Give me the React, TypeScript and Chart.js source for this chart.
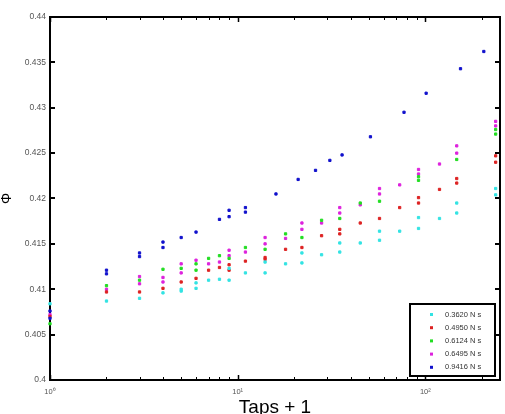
import React, { useEffect, useRef } from "react";
import { Chart, registerables } from "chart.js";

Chart.register(...registerables);

// Legend labels (Ns)
const seriesLabels = ["0.3620 N s", "0.4950 N s", "0.6124 N s", "0.6495 N s", "0.9416 N s"];
const seriesColors = ["#33e3e3", "#dd2222", "#22dd22", "#dd22dd", "#1111cc"];

// Taps + 1 values and packing fraction Φ for each series
const cyanX = [1, 2, 3, 4, 5, 5, 6, 6, 7, 8, 9, 9, 11, 14, 14, 18, 22, 22, 28, 35, 35, 45, 57, 57, 73, 92, 92, 119, 147, 147, 237, 237];
const cyanY = [0.4084, 0.4087, 0.409, 0.4096, 0.41, 0.4098, 0.4107, 0.4101, 0.411, 0.4111, 0.4123, 0.411, 0.4118, 0.413, 0.4118, 0.4128, 0.414, 0.4129, 0.4138, 0.4151, 0.4141, 0.4151, 0.4164, 0.4154, 0.4164, 0.4179, 0.4167, 0.4178, 0.4195, 0.4184, 0.4211, 0.4204];

const redX = [1, 2, 3, 4, 5, 6, 7, 8, 9, 9, 11, 14, 14, 18, 22, 28, 35, 35, 45, 57, 73, 92, 92, 119, 147, 147, 237, 237];
const redY = [0.407, 0.4097, 0.4097, 0.4101, 0.4108, 0.4112, 0.4121, 0.4124, 0.4127, 0.4121, 0.4131, 0.4135, 0.4133, 0.4144, 0.4146, 0.4159, 0.4166, 0.4161, 0.4173, 0.4178, 0.419, 0.4201, 0.4195, 0.421, 0.4222, 0.4217, 0.4247, 0.424];

const greenX = [1, 2, 3, 4, 5, 6, 6, 7, 8, 9, 11, 14, 18, 22, 28, 35, 45, 57, 92, 92, 147, 237, 237];
const greenY = [0.4062, 0.4104, 0.411, 0.4122, 0.4123, 0.4128, 0.4121, 0.4134, 0.4137, 0.4134, 0.4146, 0.4144, 0.4161, 0.4157, 0.4176, 0.4178, 0.4195, 0.4197, 0.4224, 0.422, 0.4243, 0.4276, 0.4271];

const magentaX = [1, 2, 3, 3, 4, 4, 5, 5, 6, 7, 8, 9, 9, 11, 14, 14, 18, 22, 22, 28, 35, 35, 45, 57, 57, 73, 92, 92, 119, 147, 147, 237, 237];
const magentaY = [0.4072, 0.41, 0.4114, 0.4106, 0.4113, 0.4108, 0.4128, 0.4118, 0.4132, 0.4128, 0.413, 0.4143, 0.4137, 0.4141, 0.4157, 0.415, 0.4156, 0.4173, 0.4166, 0.4173, 0.419, 0.4184, 0.4193, 0.4211, 0.4205, 0.4215, 0.4232, 0.4227, 0.4238, 0.4258, 0.425, 0.4285, 0.428];

const blueX = [1, 1, 2, 2, 3, 3, 4, 4, 5, 6, 8, 9, 9, 11, 11, 16, 21, 26, 31, 36, 51, 77, 101, 154, 205];
const blueY = [0.4076, 0.4068, 0.4121, 0.4117, 0.414, 0.4136, 0.4152, 0.4146, 0.4157, 0.4163, 0.4177, 0.4187, 0.418, 0.419, 0.4185, 0.4205, 0.4221, 0.4231, 0.4242, 0.4248, 0.4268, 0.4295, 0.4316, 0.4343, 0.4362];

const seriesX = [cyanX, redX, greenX, magentaX, blueX];
const seriesY = [cyanY, redY, greenY, magentaY, blueY];

const xMin = 1;
const xMax = 250;
const yMin = 0.4;
const yMax = 0.44;
const yStep = 0.005;
const xDecades = [1, 10, 100];
const superscripts = ["⁰", "¹", "²", "³"];

const FONT = "'Liberation Sans', Arial, sans-serif";

const framePlugin = {
  id: "frameTicks",
  beforeDatasetsDraw(chart: any) {
    const { ctx, chartArea: a, scales } = chart;
    ctx.save();
    ctx.strokeStyle = "#000";
    ctx.lineWidth = 2;
    ctx.strokeRect(a.left, a.top, a.right - a.left, a.bottom - a.top);
    const ys = scales.y;
    ys.ticks.forEach((t: any) => {
      const py = Math.round(ys.getPixelForValue(t.value));
      ctx.beginPath();
      ctx.moveTo(a.left, py);
      ctx.lineTo(a.left + 5, py);
      ctx.moveTo(a.right, py);
      ctx.lineTo(a.right - 5, py);
      ctx.stroke();
    });
    const xs = scales.x;
    xs.ticks.forEach((t: any) => {
      const v = t.value;
      const p = Math.pow(10, Math.floor(Math.log10(v) + 1e-9));
      const r = v / p;
      if (Math.abs(r - Math.round(r)) > 1e-6) return;
      const major = Math.abs(r - 1) < 1e-6;
      const len = major ? 5 : 3;
      ctx.lineWidth = major ? 1.5 : 1;
      const px = Math.round(xs.getPixelForValue(v)) + 0.5;
      ctx.beginPath();
      ctx.moveTo(px, a.bottom);
      ctx.lineTo(px, a.bottom - len);
      ctx.moveTo(px, a.top);
      ctx.lineTo(px, a.top + len);
      ctx.stroke();
    });
    ctx.restore();
  },
};

const legendPlugin = {
  id: "insideLegend",
  afterDraw(chart: any) {
    const { ctx, chartArea: a } = chart;
    const w = 85;
    const h = 72;
    const left = a.right - 5 - w;
    const top = a.bottom - 4 - h;
    ctx.save();
    ctx.fillStyle = "#fff";
    ctx.fillRect(left, top, w, h);
    ctx.strokeStyle = "#000";
    ctx.lineWidth = 2;
    ctx.strokeRect(left, top, w, h);
    ctx.font = `7.5px ${FONT}`;
    ctx.textBaseline = "middle";
    ctx.textAlign = "left";
    chart.data.datasets.forEach((ds: any, i: number) => {
      const cy = top + 10.5 + i * 13.2;
      ctx.fillStyle = ds.backgroundColor;
      ctx.fillRect(left + 20, cy - 1.5, 3, 3);
      ctx.fillStyle = "#333";
      ctx.fillText(ds.label, left + 35, cy);
    });
    ctx.restore();
  },
};

export default function App() {
  const canvasRef = useRef<HTMLCanvasElement | null>(null);

  useEffect(() => {
    if (!canvasRef.current) return;
    const datasets = seriesLabels.map((label, i) => ({
      label,
      data: seriesX[i].map((x, j) => ({ x, y: seriesY[i][j] })),
      backgroundColor: seriesColors[i],
      borderColor: seriesColors[i],
      pointStyle: "rect" as const,
      pointRadius: 1.6,
      pointBorderWidth: 1,
      clip: false as any,
      order: i === 4 ? 0 : 1,
    }));

    const chart = new Chart(canvasRef.current, {
      type: "scatter",
      data: { datasets },
      plugins: [framePlugin, legendPlugin],
      options: {
        animation: false,
        responsive: false,
        maintainAspectRatio: false,
        devicePixelRatio: 1,
        layout: { padding: { top: 17, right: 5, bottom: 0, left: 0 } },
        plugins: {
          legend: { display: false },
          tooltip: { enabled: false },
          title: { display: false },
        },
        scales: {
          x: {
            type: "logarithmic",
            min: xMin,
            max: xMax,
            grid: { display: false, drawTicks: false },
            border: { display: false },
            afterBuildTicks: (scale: any) => {
              const ticks: any[] = [];
              xDecades.forEach((d) => {
                for (let k = 1; k <= 9; k++) {
                  const v = d * k;
                  if (v >= xMin && v <= xMax) ticks.push({ value: v });
                }
              });
              scale.ticks = ticks;
            },
            afterFit: (scale: any) => {
              scale.height = 42;
            },
            ticks: {
              autoSkip: false,
              maxRotation: 0,
              padding: 7,
              color: "#555",
              font: { size: 7.5, family: FONT },
              callback: (value: any) => {
                const idx = xDecades.indexOf(Number(value));
                return idx >= 0 ? "10" + superscripts[idx] : "";
              },
            },
            title: {
              display: true,
              text: "Taps + 1",
              color: "#000",
              font: { size: 19, family: FONT },
              padding: { top: 0, bottom: 2.6 },
            },
          },
          y: {
            type: "linear",
            min: yMin,
            max: yMax,
            grid: { display: false, drawTicks: false },
            border: { display: false },
            afterFit: (scale: any) => {
              scale.width = 50;
            },
            ticks: {
              stepSize: yStep,
              padding: 4,
              color: "#555",
              font: { size: 8.5, family: FONT },
              callback: (value: any) => String(+Number(value).toFixed(3)),
            },
            title: {
              display: true,
              text: "Φ",
              color: "#000",
              font: { size: 14, family: FONT, lineHeight: 1 },
              padding: 0,
            },
          },
        },
      },
    });
    return () => chart.destroy();
  }, []);

  return (
    <div style={{ position: "fixed", left: 0, top: 0, width: 505, height: 422 }}>
      <canvas ref={canvasRef} width={505} height={422} style={{ width: 505, height: 422, display: "block" }} />
    </div>
  );
}
